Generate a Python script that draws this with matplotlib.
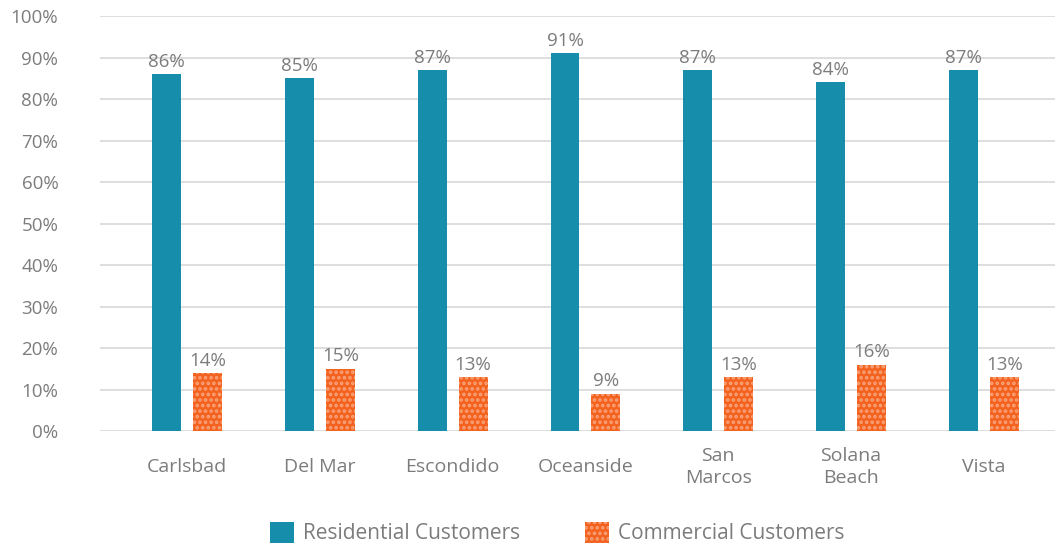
import matplotlib
matplotlib.use("Agg")
import matplotlib.pyplot as plt
import numpy as np
from matplotlib.patches import Patch

plt.rcParams['font.family'] = ['Open Sans', 'DejaVu Sans']
plt.rcParams['hatch.linewidth'] = 1.75

cities = ["Carlsbad", "Del Mar", "Escondido", "Oceanside", "San\nMarcos", "Solana\nBeach", "Vista"]
residential = [86, 85, 87, 91, 87, 84, 87]
commercial = [14, 15, 13, 9, 13, 16, 13]
yticks = [0, 10, 20, 30, 40, 50, 60, 70, 80, 90, 100]

teal = "#168DAA"
orange = "#F4621F"
dot = "#F8A47C"
grey = "#7C7C7C"

fig = plt.figure(figsize=(10.55, 5.48), dpi=100)
ax = fig.add_axes([0.0948, 0.2135, 0.9052, 0.7573])

x = np.arange(len(cities))
w = 0.218
off = 0.154

ax.bar(x - off, residential, w, color=teal, zorder=3)
ax.bar(x + off, commercial, w, facecolor=orange, edgecolor=dot, hatch="...",
       linewidth=0, zorder=3)

for xi, v in zip(x, residential):
    ax.text(xi - off, v + 0.8, f"{v}%", ha="center", va="bottom", fontsize=13.5, color=grey)
for xi, v in zip(x, commercial):
    ax.text(xi + off, v + 0.8, f"{v}%", ha="center", va="bottom", fontsize=13.5, color=grey)

ax.set_ylim(0, 100)
ax.set_xlim(-0.655, 6.535)
ax.set_yticks(yticks)
ax.set_yticklabels([f"{t}%" for t in yticks])
ax.set_xticks(x)
ax.set_xticklabels(cities, linespacing=1.25, va="center")
ax.tick_params(axis="y", length=0, pad=30, labelsize=13.5, labelcolor=grey)
ax.tick_params(axis="x", length=0, pad=26, labelsize=14, labelcolor=grey)
ax.yaxis.grid(True, color="#D4D4D4", linewidth=1.1, zorder=0)
ax.set_axisbelow(True)
for s in ax.spines.values():
    s.set_visible(False)

handles = [Patch(facecolor=teal, label="Residential Customers"),
           Patch(facecolor=orange, edgecolor=dot, hatch="...", linewidth=0,
                 label="Commercial Customers")]
fig.legend(handles=handles, loc="center", bbox_to_anchor=(0.528, 0.027), ncol=2,
           frameon=False, fontsize=15, labelcolor=grey, handlelength=1.15,
           handleheight=1.15, handletextpad=0.45, columnspacing=3.1)

fig.savefig("out.png", dpi=100)
